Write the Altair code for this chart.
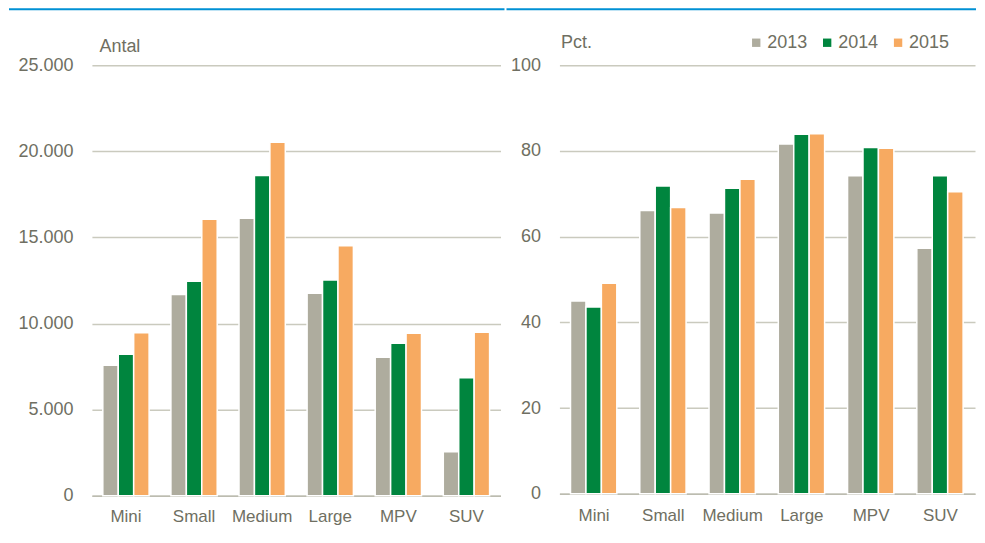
import altair as alt
import pandas as pd

categories = ["Mini", "Small", "Medium", "Large", "MPV", "SUV"]
years = ["2013", "2014", "2015"]

antal_2013 = [7580, 11680, 16110, 11760, 8040, 2560]
antal_2014 = [8215, 12450, 18590, 12530, 8850, 6850]
antal_2015 = [9470, 16050, 20530, 14510, 9430, 9490]

pct_2013 = [45.0, 66.1, 65.5, 81.6, 74.2, 57.3]
pct_2014 = [43.6, 71.8, 71.3, 83.9, 80.8, 74.2]
pct_2015 = [49.1, 66.8, 73.4, 84.0, 80.6, 70.5]

antal_ticks = [0, 5000, 10000, 15000, 20000, 25000]
pct_ticks = [0, 20, 40, 60, 80, 100]
colors = ["#aeac9e", "#00853e", "#f7aa61"]

FONT = "Liberation Sans"
TXT = "#6f6f62"
GRID = "#cacabe"
DOMAIN = "#bcbcb0"
BLUE = "#0090d4"


def long(series):
    rows = []
    for y, vals in zip(years, series):
        for c, v in zip(categories, vals):
            rows.append({"category": c, "year": y, "value": v})
    return pd.DataFrame(rows)


df_antal = long([antal_2013, antal_2014, antal_2015])
df_pct = long([pct_2013, pct_2014, pct_2015])
one = pd.DataFrame({"a": [0]})


def x_enc(pad):
    return alt.X(
        "category:N", sort=categories, title=None,
        scale=alt.Scale(paddingInner=0.32, paddingOuter=0.16),
        axis=alt.Axis(labelAngle=0, ticks=False, tickSize=0, labelPadding=pad,
                      labelFontSize=17, labelColor=TXT, labelFont=FONT,
                      domainColor=DOMAIN, domainWidth=1.5, grid=False),
    )


xoff = alt.XOffset("year:N", sort=years, scale=alt.Scale(paddingInner=0, paddingOuter=0))

left_bars = alt.Chart(df_antal).mark_bar(stroke="white", strokeWidth=1.5).encode(
    x=x_enc(13),
    xOffset=xoff,
    y=alt.Y("value:Q", scale=alt.Scale(domain=[0, 25000], nice=False),
            axis=alt.Axis(values=antal_ticks, title="Antal", titleAngle=0, titleAlign="left",
                          titleX=7, titleY=-14, titleBaseline="alphabetic", titleFontSize=18,
                          titleFontWeight="normal", titleColor=TXT, titleFont=FONT,
                          labelExpr="replace(format(datum.value, ','), ',', '.')",
                          labelFontSize=18, labelColor=TXT, labelFont=FONT,
                          domain=False, ticks=False, tickSize=0, labelPadding=19,
                          gridColor=GRID, gridWidth=1.5)),
    color=alt.Color("year:N", scale=alt.Scale(domain=years, range=colors), legend=None),
)

left_rule = alt.Chart(one).mark_rule(color=BLUE, strokeWidth=2).encode(
    x=alt.value(-83), x2=alt.value(413), y=alt.value(-56)
)

left = alt.layer(left_rule, left_bars).properties(width=409, height=431)

right_bars = alt.Chart(df_pct).mark_bar(stroke="white", strokeWidth=1.5).encode(
    x=x_enc(14),
    xOffset=xoff,
    y=alt.Y("value:Q", scale=alt.Scale(domain=[0, 100], nice=False),
            axis=alt.Axis(values=pct_ticks, title="Pct.", titleAngle=0, titleAlign="left",
                          titleX=1, titleY=-18, titleBaseline="alphabetic", titleFontSize=18,
                          titleFontWeight="normal", titleColor=TXT, titleFont=FONT,
                          labelFontSize=18, labelColor=TXT, labelFont=FONT,
                          domain=False, ticks=False, tickSize=0, labelPadding=19,
                          gridColor=GRID, gridWidth=1.5)),
    color=alt.Color("year:N", scale=alt.Scale(domain=years, range=colors),
                    legend=alt.Legend(orient="none", legendX=188, legendY=-31.5,
                                      direction="horizontal", title=None,
                                      symbolType="square", symbolSize=70,
                                      symbolStrokeWidth=0, labelFontSize=18,
                                      labelColor=TXT, labelFont=FONT, labelOffset=2,
                                      columnPadding=10, padding=0)),
)

right_rule = alt.Chart(one).mark_rule(color=BLUE, strokeWidth=2).encode(
    x=alt.value(-53), x2=alt.value(417), y=alt.value(-56)
)

right = alt.layer(right_rule, right_bars).properties(width=416, height=429)

chart = alt.hconcat(left, right, spacing=0).resolve_scale(color="independent").properties(
    padding=0
).configure_view(stroke=None)

chart.save("out.html", embed_options={"renderer": "svg", "actions": False})
